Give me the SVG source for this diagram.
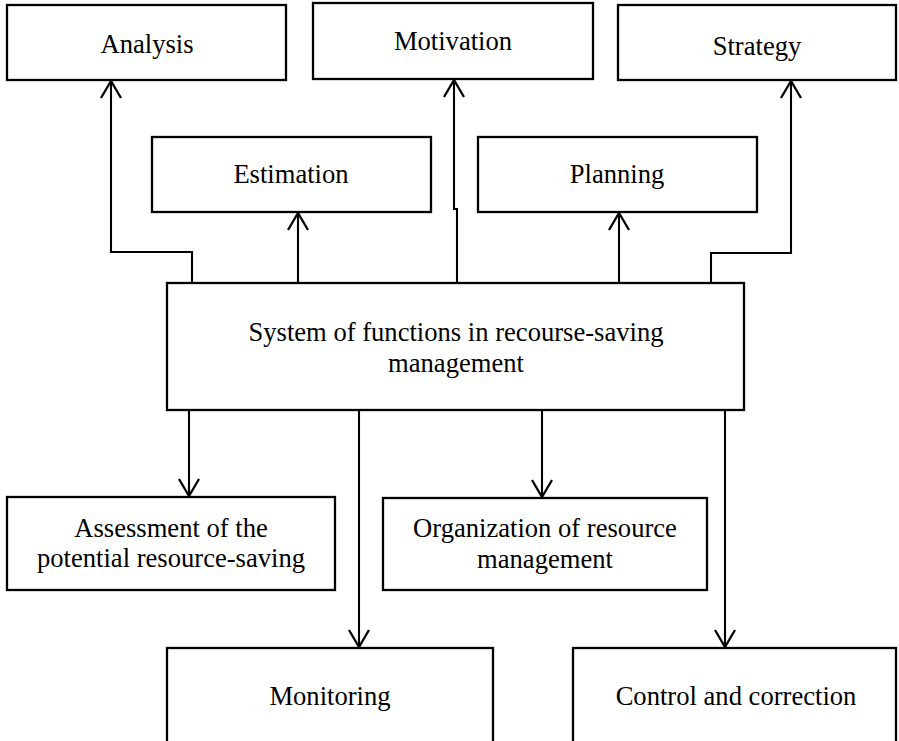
<svg xmlns="http://www.w3.org/2000/svg" width="899" height="741" viewBox="0 0 899 741">
<style>
.box{fill:#fff;stroke:#000;stroke-width:2.3}
.t{font-family:"Liberation Serif","Times New Roman",serif;font-size:26.6px;fill:#000;text-anchor:middle}
.c{fill:none;stroke:#000;stroke-width:2.1}
</style>
<defs>
<marker id="arr" markerUnits="userSpaceOnUse" orient="auto" refX="0" refY="0" markerWidth="24" markerHeight="24" overflow="visible">
<path d="M-17,-10 L0,0 L-17,10" fill="none" stroke="#000" stroke-width="2.3"/>
</marker>
</defs>
<rect width="899" height="741" fill="#fff"/>
<g id="connectors">
<path class="c" d="M192,283 V252 H111 V81" marker-end="url(#arr)"/>
<path class="c" d="M298,283 V213" marker-end="url(#arr)"/>
<path class="c" d="M457,283 V209 H454 V80" marker-end="url(#arr)"/>
<path class="c" d="M619,283 V213" marker-end="url(#arr)"/>
<path class="c" d="M711,283 V253 H791 V81" marker-end="url(#arr)"/>
<path class="c" d="M189,410 V496" marker-end="url(#arr)"/>
<path class="c" d="M359,410 V647" marker-end="url(#arr)"/>
<path class="c" d="M542,410 V497" marker-end="url(#arr)"/>
<path class="c" d="M725,410 V647" marker-end="url(#arr)"/>
</g>
<g id="analysis"><rect class="box" x="7" y="5" width="279" height="75"/><text class="t" x="147" y="53">Analysis</text></g>
<g id="motivation"><rect class="box" x="313" y="3" width="280" height="76"/><text class="t" x="453" y="50">Motivation</text></g>
<g id="strategy"><rect class="box" x="618" y="5" width="278" height="75"/><text class="t" x="757" y="55">Strategy</text></g>
<g id="estimation"><rect class="box" x="152" y="137" width="279" height="75"/><text class="t" x="291" y="183">Estimation</text></g>
<g id="planning"><rect class="box" x="478" y="137" width="279" height="75"/><text class="t" x="617" y="183">Planning</text></g>
<g id="system"><rect class="box" x="167" y="283" width="577" height="127"/><text class="t" x="456" y="341">System of functions in recourse-saving</text><text class="t" x="456" y="372">management</text></g>
<g id="assessment"><rect class="box" x="7" y="497" width="328" height="93"/><text class="t" x="171" y="537">Assessment of the</text><text class="t" x="171" y="567">potential resource-saving</text></g>
<g id="organization"><rect class="box" x="383" y="498" width="324" height="92"/><text class="t" x="545" y="537">Organization of resource</text><text class="t" x="545" y="568">management</text></g>
<g id="monitoring"><rect class="box" x="167" y="648" width="326" height="100"/><text class="t" x="330" y="705">Monitoring</text></g>
<g id="control"><rect class="box" x="573" y="648" width="323" height="100"/><text class="t" x="736" y="705">Control and correction</text></g>
</svg>
